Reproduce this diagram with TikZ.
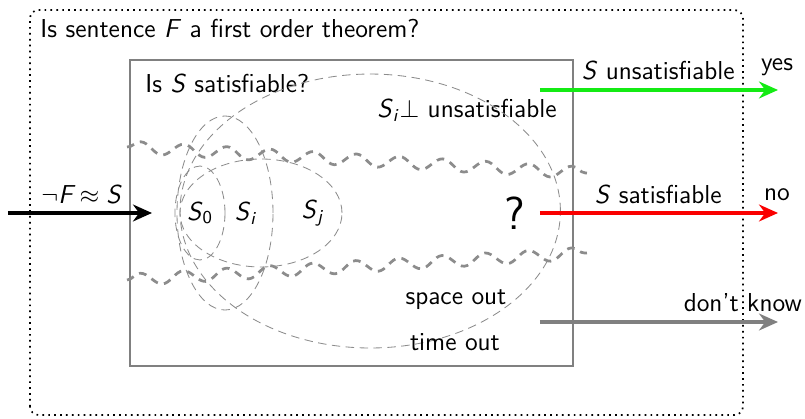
\documentclass[tikz,border=0pt]{standalone}
\usepackage{amsmath}
\usepackage{amssymb}
\usepackage{xcolor}
\usepackage{tikz}
\usetikzlibrary{arrows.meta,decorations.pathmorphing}
\definecolor{yesgreen}{RGB}{20,235,20}
\definecolor{nored}{RGB}{250,0,0}
\definecolor{boxgray}{RGB}{128,128,128}
\definecolor{linegray}{RGB}{140,140,140}
\newcommand{\vv}[1]{\textit{#1}}

\begin{document}
\begin{tikzpicture}[font=\sffamily\fontsize{12.3}{15}\selectfont,
    outcome/.style={line width=1.8pt,-{Stealth[length=9pt,width=8pt]}},
    subset/.style={linegray,thin,dash pattern=on 4pt off 2.6pt},
    frontier/.style={linegray,line width=1.3pt,dash pattern=on 3.6pt off 3pt,decorate,
        decoration={snake,segment length=0.72cm,amplitude=0.1cm}}]
    \useasboundingbox (0,0) rectangle (13.417,6.967);

    % Outer question
    \draw[dotted,thick,rounded corners=4pt] (0.5,0.05) rectangle (12.383,6.8);
    \node[anchor=west] (question) at (0.55,6.5) {Is sentence \vv{F} a first order theorem?};

    % Prover box
    \draw[boxgray,line width=1.4pt] (2.167,0.867) rectangle (9.55,5.967);
    \node[anchor=west] (satq) at (2.3,5.583) {Is \vv{S} satisfiable?};
    \node[anchor=east] (unsat) at (9.4,5.133) {\vv{S}\textsubscript{\vv{i}}$\perp$ unsatisfiable};

    % Growing subsets
    \draw[subset] (3.333,3.417) ellipse (0.417 and 0.783);
    \draw[subset] (3.75,3.417) ellipse (0.8 and 1.617);
    \draw[subset] (4.35,3.417) ellipse (1.35 and 0.9);
    \draw[subset] (6.17,3.45) ellipse (3.17 and 2.283);
    \node (s0) at (3.333,3.417) {\vv{S}\textsubscript{0}};
    \node (si) at (4.1,3.417) {\vv{S}\textsubscript{\vv{i}}};
    \node (sj) at (5.217,3.417) {\vv{S}\textsubscript{\vv{j}}};
    \node[font=\sffamily\fontsize{22}{26}\selectfont] (qm) at (8.583,3.417) {?};

    % Search frontier
    \draw[frontier] (2.117,4.517) -- (9.783,4.083);
    \draw[frontier] (2.117,2.3) -- (9.783,2.75);

    \node (space) at (7.6,1.967) {space out};
    \node (time) at (7.583,1.267) {time out};

    % Input
    \coordinate (in) at (0.133,3.417);
    \coordinate (inend) at (2.533,3.417);
    \draw[outcome,black] (in) -- (inend);
    \node (negf) at (1.35,3.717) {$\neg\vv{F}\approx\vv{S}$};

    % Outcomes
    \coordinate (ystart) at (9,5.467);
    \coordinate (yend) at (12.967,5.467);
    \coordinate (nstart) at (9,3.417);
    \coordinate (nend) at (12.967,3.417);
    \coordinate (dstart) at (9,1.6);
    \coordinate (dend) at (12.967,1.6);
    \draw[outcome,yesgreen] (ystart) -- (yend);
    \draw[outcome,nored] (nstart) -- (nend);
    \draw[outcome,boxgray] (dstart) -- (dend);

    \node (unsatlbl) at (10.97,5.8) {\vv{S} unsatisfiable};
    \node (yes) at (12.95,5.85) {yes};
    \node (satlbl) at (10.97,3.717) {\vv{S} satisfiable};
    \node (no) at (12.95,3.717) {no};
    \node (dk) at (12.38,1.917) {don't know};
\end{tikzpicture}
\end{document}
